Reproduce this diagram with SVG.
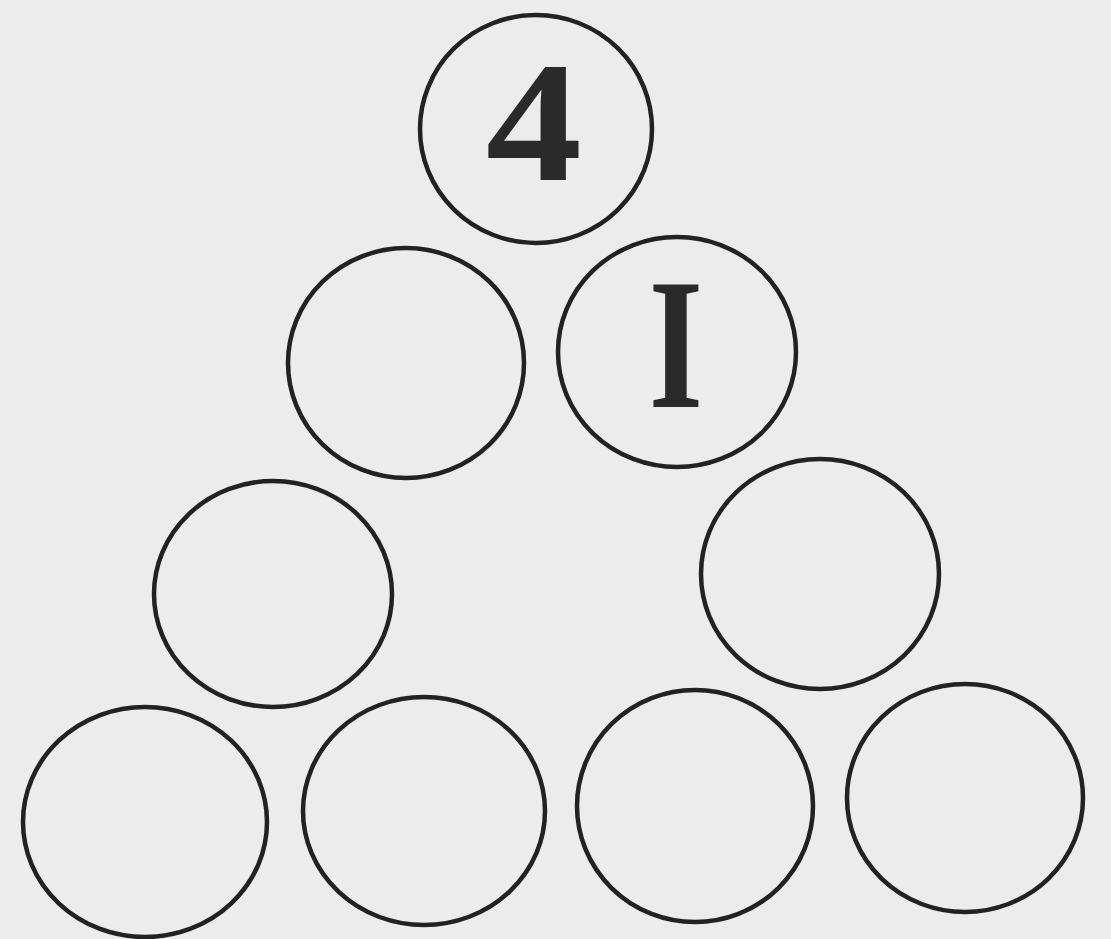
<svg xmlns="http://www.w3.org/2000/svg" width="1111" height="939" viewBox="0 0 1111 939">
<style>
.c{fill:none;stroke:#222;stroke-width:4.5}
.t{font-family:"Liberation Serif","Times New Roman",serif;font-weight:bold;fill:#2a2a2a;text-anchor:middle}
</style>
<rect width="1111" height="939" fill="#ececec"/>
<g id="n1"><ellipse class="c" cx="536" cy="129" rx="116" ry="114"/><text class="t" transform="translate(534,180) scale(1.12,1)" font-size="172">4</text></g>
<g id="n2"><ellipse class="c" cx="406" cy="363" rx="118" ry="115"/></g>
<g id="n3"><ellipse class="c" cx="677" cy="352" rx="119" ry="115"/><text class="t" transform="translate(676,407) scale(0.75,1)" font-size="186">I</text></g>
<g id="n4"><ellipse class="c" cx="273" cy="594" rx="119" ry="113"/></g>
<g id="n5"><ellipse class="c" cx="820" cy="574" rx="119" ry="115"/></g>
<g id="n6"><ellipse class="c" cx="145" cy="822" rx="122" ry="115"/></g>
<g id="n7"><ellipse class="c" cx="424" cy="811" rx="121" ry="114"/></g>
<g id="n8"><ellipse class="c" cx="695" cy="806" rx="118" ry="116"/></g>
<g id="n9"><ellipse class="c" cx="965" cy="798" rx="118" ry="114"/></g>
<g id="connectors"></g>
</svg>
